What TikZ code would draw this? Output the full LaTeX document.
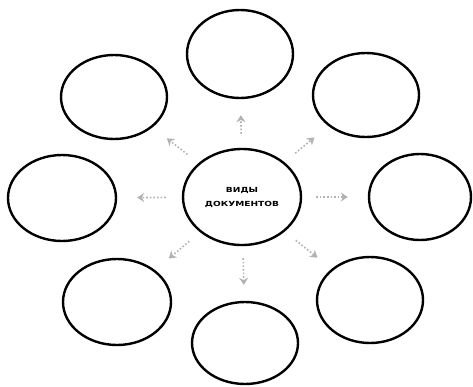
\documentclass[tikz,border=0pt]{standalone}
\usepackage{fontspec}
\setmainfont{DejaVu Sans}
\usetikzlibrary{shapes.geometric,arrows.meta}
\tikzset{
  oval/.style={draw=black, ellipse, line width=2.4pt, inner sep=0pt},
  faintarrow/.style={draw=black!30, line width=1.6pt, dotted, -{Stealth[length=7pt,width=9pt]}}
}
\begin{document}
\begin{tikzpicture}[x=1pt,y=-1pt]
\useasboundingbox (0,0) rectangle (473,386);
\node[oval, minimum width=118pt, minimum height=96pt, align=center, font=\bfseries\fontsize{7}{11}\selectfont] (c) at (242,197) {\scalebox{1.3}[1]{ВИДЫ}\\[3pt]\scalebox{1.3}[1]{ДОКУМЕНТОВ}};
\node[oval, minimum width=106pt, minimum height=88pt] (t) at (240,54) {};
\node[oval, minimum width=106pt, minimum height=84pt] (tl) at (114,97) {};
\node[oval, minimum width=106pt, minimum height=84pt] (tr) at (366,95) {};
\node[oval, minimum width=108pt, minimum height=86pt] (l) at (62,198) {};
\node[oval, minimum width=102pt, minimum height=86pt] (r) at (420,197) {};
\node[oval, minimum width=108pt, minimum height=86pt] (bl) at (117,302) {};
\node[oval, minimum width=106pt, minimum height=86pt] (br) at (370,300) {};
\node[oval, minimum width=106pt, minimum height=82pt] (b) at (245,343) {};
\draw[faintarrow, shorten <=14pt, shorten >=16pt] (c) -- (t);
\draw[faintarrow, shorten <=14pt, shorten >=18pt] (c) -- (tl);
\draw[faintarrow, shorten <=14pt, shorten >=18pt] (c) -- (tr);
\draw[faintarrow, shorten <=16pt, shorten >=20pt] (c) -- (l);
\draw[faintarrow, shorten <=14pt, shorten >=20pt] (c) -- (r);
\draw[faintarrow, shorten <=14pt, shorten >=18pt] (c) -- (bl);
\draw[faintarrow, shorten <=14pt, shorten >=18pt] (c) -- (br);
\draw[faintarrow, shorten <=12pt, shorten >=16pt] (c) -- (b);
\end{tikzpicture}
\end{document}
